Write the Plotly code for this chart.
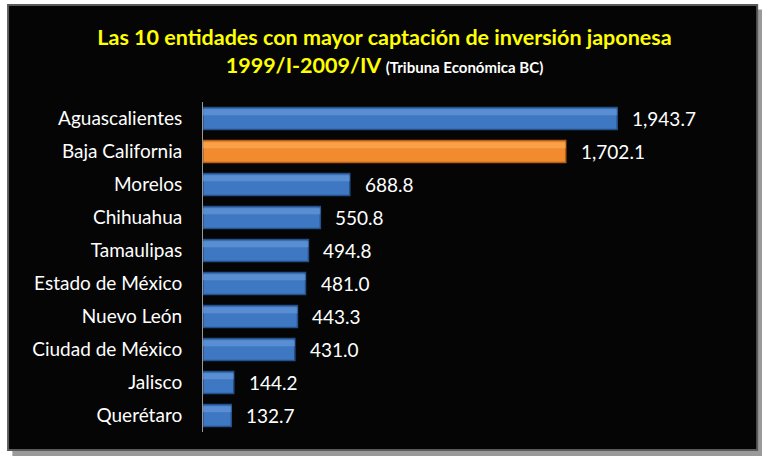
import plotly.graph_objects as go

entidades = ["Aguascalientes", "Baja California", "Morelos", "Chihuahua", "Tamaulipas",
             "Estado de México", "Nuevo León", "Ciudad de México", "Jalisco", "Querétaro"]
inversion = [1943.7, 1702.1, 688.8, 550.8, 494.8, 481.0, 443.3, 431.0, 144.2, 132.7]
etiquetas = ["1,943.7", "1,702.1", "688.8", "550.8", "494.8", "481.0", "443.3", "431.0", "144.2", "132.7"]
resaltado = "Baja California"

FONT = "Lato, 'Open Sans', sans-serif"
colors = ["#F28A2E" if e == resaltado else "#3F78C2" for e in entidades]
lines = ["#B5601A" if e == resaltado else "#25508A" for e in entidades]
hi = ["#FDB45E" if e == resaltado else "#6FA2E0" for e in entidades]

fig = go.Figure()
fig.add_trace(go.Bar(
    y=entidades, x=inversion, orientation="h",
    marker=dict(color=colors, line=dict(color=lines, width=1.5)),
    width=0.66, showlegend=False, hoverinfo="x+y",
))
fig.add_trace(go.Bar(
    y=entidades, x=inversion, orientation="h",
    marker=dict(color=hi, line=dict(width=0)), opacity=0.55,
    width=0.18, offset=-0.28, showlegend=False, hoverinfo="skip",
))

for e, v, t in zip(entidades, inversion, etiquetas):
    fig.add_annotation(x=v, y=e, text=t, xanchor="left", xshift=13, showarrow=False,
                       font=dict(family=FONT, size=19, color="white"))

fig.update_layout(
    width=769, height=468,
    paper_bgcolor="white", plot_bgcolor="rgba(0,0,0,0)",
    margin=dict(l=203, r=29, t=102, b=36),
    barmode="overlay",
    title=dict(
        text="<b>Las 10 entidades con mayor captación de inversión japonesa<br>1999/I-2009/IV <span style='font-size:15px;color:#FFFFFF'>(Tribuna Económica BC)</span></b>",
        x=0.5, xanchor="center", y=0.903, yanchor="top",
        font=dict(family=FONT, size=21.5, color="#FFFF00"),
    ),
    xaxis=dict(range=[0, 2520], visible=False, fixedrange=True),
    yaxis=dict(autorange="reversed", showline=True, linecolor="#9A9A9A", linewidth=1,
               ticks="outside", ticklen=16, tickcolor="rgba(0,0,0,0)",
               tickfont=dict(family=FONT, size=19, color="white"), showgrid=False),
    shapes=[
        dict(type="rect", xref="paper", yref="paper", layer="below",
             x0=-0.355, x1=1.041, y0=-0.073, y1=1.28,
             fillcolor="#9A9A9A", line=dict(width=0)),
        dict(type="rect", xref="paper", yref="paper", layer="below",
             x0=-0.363, x1=1.032, y0=-0.0545, y1=1.294,
             fillcolor="#050505", line=dict(color="#5A5A5A", width=2)),
    ],
)

fig.write_html("out.html", config={"displayModeBar": False},
               post_script="document.body.style.margin='0';")
